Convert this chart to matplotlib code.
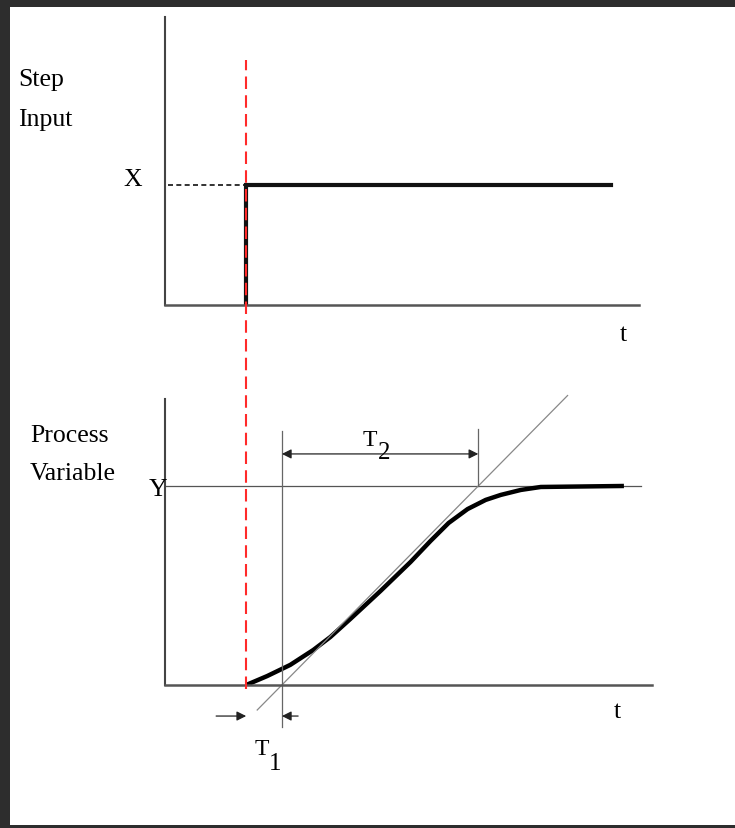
import numpy as np
import matplotlib
matplotlib.use("Agg")
import matplotlib.pyplot as plt
from matplotlib.patches import Rectangle

plt.rcParams['font.family'] = ['Liberation Serif', 'DejaVu Serif']

# time axis: step at t=0, units arbitrary
t_min, t_max = -1.0, 5.0
step_t = [0.0, 0.0, 4.49]
step_x = [0.0, 1.0, 1.0]
top_axis_end = 4.84

# process variable response, Y normalised to 1
pv_t = [0.0, 0.259, 0.543, 0.827, 1.037, 1.284, 1.654, 2.025, 2.272, 2.494,
        2.728, 2.951, 3.136, 3.383, 3.63, 4.654]
pv_y = [0.0, 0.045, 0.101, 0.176, 0.241, 0.332, 0.472, 0.618, 0.724, 0.814,
        0.884, 0.93, 0.955, 0.98, 0.995, 1.0]

T1 = 0.44          # dead time
T2 = 2.42          # time constant (tangent reaches Y at T1+T2)
Y_end = 4.86

W, H = 735, 829
fig = plt.figure(figsize=(W / 100, H / 100), dpi=100, facecolor='#2d2d2d')
fig.patches.append(Rectangle((10 / W, 3 / H), 1 - 10 / W, (821 - 3) / H,
                             transform=fig.transFigure, facecolor='white',
                             edgecolor='none', zorder=-10))


def px_axes(left, right, top, bottom):
    return fig.add_axes([left / W, (H - bottom) / H, (right - left) / W, (bottom - top) / H])


ax1 = px_axes(165, 652, 18, 306)
ax2 = px_axes(165, 652, 400, 686)
for ax in (ax1, ax2):
    ax.set_facecolor('none')
    ax.set_xlim(t_min, t_max)
    ax.set_xticks([])
    ax.set_yticks([])
    ax.spines['top'].set_visible(False)
    ax.spines['right'].set_visible(False)
    ax.spines['left'].set_color('#444444')
    ax.spines['bottom'].set_color('#555555')
    ax.spines['left'].set_linewidth(1.5)
    ax.spines['bottom'].set_linewidth(1.8)

ax1.set_ylim(0, 2.4)
ax1.spines['bottom'].set_bounds(t_min, top_axis_end)
ax2.set_ylim(0, 1.437)

fs = 18.5

# --- step input ---
ax1.plot(step_t, step_x, color='#111111', lw=3, solid_joinstyle='miter')
ax1.plot([t_min + 0.04, 0], [1, 1], color='#111111', lw=1.2, ls=(0, (3, 2)))
ax1.text(-1.395, 1.05, 'X', fontsize=fs, ha='center', va='center', clip_on=False)
ax1.text(4.65, -0.24, 't', fontsize=fs, ha='center', va='center', clip_on=False)

# --- process variable ---
ax2.plot([t_min, Y_end], [1, 1], color='#555555', lw=0.9)
ax2.plot(pv_t, pv_y, color='#000000', lw=3.2, solid_capstyle='butt', solid_joinstyle='round')
tan_t = np.array([0.136, 3.96])
ax2.plot(tan_t, (tan_t - T1) / T2, color='#888888', lw=0.9, clip_on=False)
ax2.plot([T1, T1], [-0.21, 1.276], color='#666666', lw=0.9, clip_on=False)
ax2.plot([T1 + T2, T1 + T2], [1.0, 1.286], color='#666666', lw=0.9)

arrow = dict(arrowstyle='<|-|>', color='#222222', lw=0.9, mutation_scale=14, shrinkA=0, shrinkB=0)
ax2.annotate('', xy=(T1, 1.161), xytext=(T1 + T2, 1.161), arrowprops=arrow)
one = dict(arrowstyle='-|>', color='#222222', lw=0.9, mutation_scale=14, shrinkA=0, shrinkB=0)
ax2.annotate('', xy=(0, -0.156), xytext=(-0.37, -0.156), arrowprops=one, annotation_clip=False)
ax2.annotate('', xy=(T1, -0.156), xytext=(0.64, -0.156), arrowprops=one, annotation_clip=False)

ax2.text(-1.086, 0.985, 'Y', fontsize=fs, ha='center', va='center', clip_on=False)
ax2.text(4.57, -0.13, 't', fontsize=fs, ha='center', va='center', clip_on=False)
ax2.text(1.52, 1.231, 'T', fontsize=17, ha='center', va='center')
ax2.text(1.70, 1.172, '2', fontsize=18, ha='center', va='center')
ax2.text(0.19, -0.32, 'T', fontsize=17, ha='center', va='center', clip_on=False)
ax2.text(0.36, -0.39, '1', fontsize=18, ha='center', va='center', clip_on=False)

# red dashed line marking the step time, across both panels
ax2.plot([0, 0], [-0.02, 3.14], color='#ff2a2a', lw=1.5, ls=(0, (6, 3)), clip_on=False, zorder=5)

for label, x, y in [('Step', 18, 80), ('Input', 18, 120), ('Process', 30, 436), ('Variable', 30, 474)]:
    fig.text(x / W, 1 - y / H, label, fontsize=fs, ha='left', va='center')

fig.savefig('out.png', dpi=100, facecolor=fig.get_facecolor())
